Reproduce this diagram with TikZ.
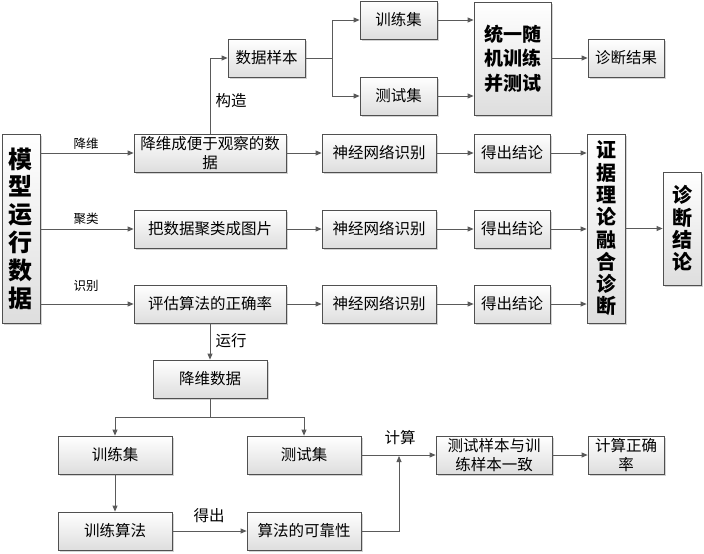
\documentclass[tikz,border=0pt]{standalone}
\usepackage{fontspec}
\setmainfont{Noto Sans CJK SC}
\usetikzlibrary{arrows.meta,shadows}
\definecolor{linegray}{HTML}{5A5A5A}
\definecolor{bordergray}{HTML}{505050}
\definecolor{shadowgray}{HTML}{C8C8C8}
\tikzset{
  box/.style={draw=bordergray, line width=0.8pt, top color=white, bottom color=black!13,
    inner sep=0pt, align=center, font=\fontsize{15.5}{19}\selectfont,
    drop shadow={shadow xshift=1.6pt, shadow yshift=-1.6pt, fill=shadowgray, opacity=0.8}},
  bigbox/.style={box, font=\fontsize{20}{22.3}\selectfont\bfseries},
  arr/.style={draw=linegray, line width=0.8pt, -{Triangle[length=6pt,width=5pt]}},
  ln/.style={draw=linegray, line width=0.8pt},
  lab/.style={font=\fontsize{15.5}{18}\selectfont, inner sep=0pt},
  slab/.style={font=\fontsize{12.5}{15}\selectfont, inner sep=0pt},
}
\begin{document}
\begin{tikzpicture}[x=1pt,y=-1pt]
\useasboundingbox (0,0) rectangle (704,554);
% left column
\node[box, minimum width=38pt, minimum height=189pt, font=\fontsize{24}{27.8}\selectfont\bfseries] (src) at (21,228.5) {模\\型\\运\\行\\数\\据};
% row boxes
\node[box, minimum width=152pt, minimum height=38pt] (r1) at (210,153) {降维成便于观察的数\\据};
\node[box, minimum width=152pt, minimum height=38pt] (r2) at (210,229) {把数据聚类成图片};
\node[box, minimum width=152pt, minimum height=38pt] (r3) at (210,304) {评估算法的正确率};
\node[box, minimum width=114pt, minimum height=38pt] (n1) at (379,153) {神经网络识别};
\node[box, minimum width=114pt, minimum height=38pt] (n2) at (379,229) {神经网络识别};
\node[box, minimum width=114pt, minimum height=38pt] (n3) at (379,304) {神经网络识别};
\node[box, minimum width=76pt, minimum height=38pt] (c1) at (512,153) {得出结论};
\node[box, minimum width=76pt, minimum height=38pt] (c2) at (512,229) {得出结论};
\node[box, minimum width=76pt, minimum height=38pt] (c3) at (512,304) {得出结论};
\node[bigbox, minimum width=38pt, minimum height=189pt] (fuse) at (606,228.5) {证\\据\\理\\论\\融\\合\\诊\\断};
\node[bigbox, minimum width=38pt, minimum height=113pt] (final) at (682,228.5) {诊\\断\\结\\论};
% top section
\node[box, minimum width=77pt, minimum height=38pt] (sample) at (266.5,58) {数据样本};
\node[box, minimum width=77pt, minimum height=38pt] (tr) at (398.5,20) {训练集};
\node[box, minimum width=77pt, minimum height=38pt] (te) at (398.5,96) {测试集};
\node[box, minimum width=77pt, minimum height=113pt, font=\fontsize{19}{24.5}\selectfont\bfseries] (uni) at (512.5,58.5) {统一随\\机训练\\并测试};
\node[box, minimum width=76pt, minimum height=38pt] (diag) at (626,58) {诊断结果};
% bottom section
\node[box, minimum width=114pt, minimum height=38pt] (red) at (210,379) {降维数据};
\node[box, minimum width=114pt, minimum height=38pt] (tr2) at (115,455) {训练集};
\node[box, minimum width=114pt, minimum height=38pt] (te2) at (304,455) {测试集};
\node[box, minimum width=114pt, minimum height=38pt] (alg) at (115,531) {训练算法};
\node[box, minimum width=114pt, minimum height=38pt] (rel) at (304,531) {算法的可靠性};
\node[box, minimum width=116pt, minimum height=38pt] (cons) at (494,455) {测试样本与训\\练样本一致};
\node[box, minimum width=76pt, minimum height=38pt] (acc) at (626,455) {计算正确\\率};
% labels
\node[slab] (l1) at (86,144) {降维};
\node[slab] (l2) at (86,219) {聚类};
\node[slab] (l3) at (86,286) {识别};
\node[lab] (l4) at (231,101) {构造};
\node[lab] (l5) at (231,341) {运行};
\node[lab] (l6) at (209,516) {得出};
\node[lab] (l7) at (400,438) {计算};
% coordinates
\coordinate (sp) at (332,58);
\coordinate (sp2) at (210,417);
\coordinate (jn) at (399,456);
% connectors
\draw[arr] (src.east |- r1.west) -- (r1.west);
\draw[arr] (src.east |- r2.west) -- (r2.west);
\draw[arr] (src.east |- r3.west) -- (r3.west);
\draw[arr] (r1) -- (n1);
\draw[arr] (r2) -- (n2);
\draw[arr] (r3) -- (n3);
\draw[arr] (n1) -- (c1);
\draw[arr] (n2) -- (c2);
\draw[arr] (n3) -- (c3);
\draw[arr] (c1.east) -- (c1.east -| fuse.west);
\draw[arr] (c2.east) -- (c2.east -| fuse.west);
\draw[arr] (c3.east) -- (c3.east -| fuse.west);
\draw[arr] (fuse.east |- final.west) -- (final.west);
\draw[arr] (r1.north) |- (sample.west);
\draw[ln] (sample.east) -- (sp);
\draw[arr] (sp) |- (tr.west);
\draw[arr] (sp) |- (te.west);
\draw[arr] (tr.east) -- (tr.east -| uni.west);
\draw[arr] (te.east) -- (te.east -| uni.west);
\draw[arr] (uni.east |- diag.west) -- (diag.west);
\draw[arr] (r3.south) -- (red.north);
\draw[ln] (red.south) -- (sp2);
\draw[arr] (sp2) -| (tr2.north);
\draw[arr] (sp2) -| (te2.north);
\draw[arr] (tr2.south) -- (alg.north);
\draw[arr] (alg.east) -- (rel.west);
\draw[arr] (te2.east) -- (cons.west);
\draw[arr] (rel.east) -| (jn);
\draw[arr] (cons.east) -- (acc.west);
\end{tikzpicture}
\end{document}
